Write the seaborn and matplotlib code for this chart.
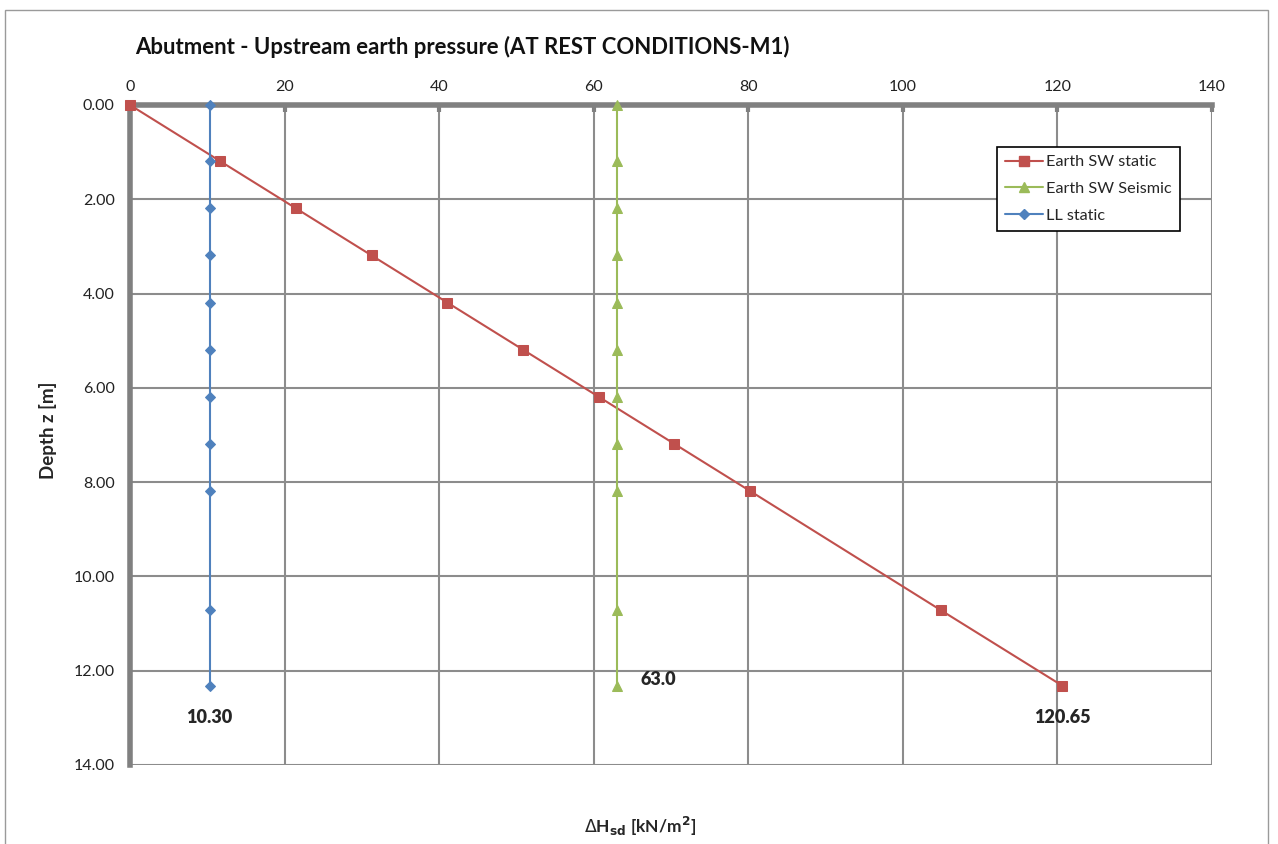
import matplotlib
matplotlib.use("Agg")
import matplotlib.pyplot as plt
import matplotlib.patches as mpatches
from matplotlib.lines import Line2D
from matplotlib.ticker import FormatStrFormatter, MultipleLocator
import seaborn as sns
import pandas as pd

# ---- data ----
depth = [0.00, 1.19, 2.19, 3.19, 4.19, 5.19, 6.19, 7.19, 8.19, 10.72, 12.32]
earth_sw_static = [0.00, 11.65, 21.45, 31.25, 41.05, 50.85, 60.65, 70.45, 80.25, 104.95, 120.65]
earth_sw_seismic = [63.0] * 11
ll_static = [10.30] * 11
series_names = ["Earth SW static", "Earth SW Seismic", "LL static"]
end_labels = ["120.65", "63.0", "10.30"]

colors = {"Earth SW static": "#C0504D", "Earth SW Seismic": "#9BBB59", "LL static": "#4F81BD"}
markers = {"Earth SW static": "s", "Earth SW Seismic": "^", "LL static": "D"}
msizes = {"Earth SW static": 7.5, "Earth SW Seismic": 7, "LL static": 5.5}

df = pd.concat([
    pd.DataFrame({"depth": depth, "value": earth_sw_static, "series": series_names[0]}),
    pd.DataFrame({"depth": depth, "value": earth_sw_seismic, "series": series_names[1]}),
    pd.DataFrame({"depth": depth, "value": ll_static, "series": series_names[2]}),
], ignore_index=True)

sns.set_style("white")
plt.rcParams["font.family"] = ["Lato", "DejaVu Sans"]

fig = plt.figure(figsize=(12.78, 8.44), dpi=100)
ax = fig.add_axes([130 / 1278, 1 - 765 / 844, (1212 - 130) / 1278, (765 - 105) / 844])

# outer chart border
fig.patches.append(mpatches.Rectangle((5 / 1278, -0.05), 1263 / 1278, 1 - 10 / 844 + 0.05,
                                      transform=fig.transFigure, fill=False,
                                      edgecolor="#9a9a9a", linewidth=1.0, zorder=0))

for name in series_names:
    sub = df[df["series"] == name]
    sns.lineplot(data=sub, x="value", y="depth", ax=ax, sort=False, estimator=None,
                 orient="y", color=colors[name], marker=markers[name],
                 markersize=msizes[name], markeredgecolor=colors[name],
                 linewidth=1.5, legend=False, zorder=5, clip_on=False)

ax.set_xlim(0, 140)
ax.set_ylim(14, 0)
ax.xaxis.set_major_locator(MultipleLocator(20))
ax.yaxis.set_major_locator(MultipleLocator(2))
ax.yaxis.set_major_formatter(FormatStrFormatter("%.2f"))
ax.xaxis.tick_top()
ax.xaxis.set_label_position("top")

ax.grid(True, color="#8c8c8c", linewidth=1.5, zorder=0)
ax.set_axisbelow(True)
for side in ["right", "bottom"]:
    ax.spines[side].set_visible(False)
for side in ["top", "left"]:
    ax.spines[side].set_color("#808080")
    ax.spines[side].set_linewidth(4)
    ax.spines[side].set_zorder(2.5)

ax.tick_params(axis="x", which="major", direction="in", length=5, width=3,
               color="#808080", labelsize=11.5, pad=8, labelcolor="#222222")
ax.tick_params(axis="y", which="major", direction="out", length=5, width=3,
               color="#808080", labelsize=11.5, pad=6, labelcolor="#222222")

ax.set_xlabel("")
ax.set_ylabel("")
fig.text(48 / 1278, 1 - 430 / 844, "Depth z [m]", fontsize=13.5, fontweight="bold",
         rotation=90, ha="center", va="center")

fig.text(135 / 1278, 1 - 47 / 844, "Abutment - Upstream earth pressure (AT REST CONDITIONS-M1)",
         fontsize=15.9, fontweight="bold", ha="left", va="center", color="#111111")
fig.text(640 / 1278, 1 - 826 / 844, r"$\Delta$H$_{\mathbf{sd}}$ [kN/m$^{\mathbf{2}}$]",
         fontsize=12.5, fontweight="bold", ha="center", va="center")

# end-value annotations
ax.text(earth_sw_static[-1], 13.0, end_labels[0], fontsize=13, fontweight="heavy",
        ha="center", va="center")
ax.text(earth_sw_seismic[-1] + 3.1, 12.18, end_labels[1], fontsize=13, fontweight="heavy",
        ha="left", va="center")
ax.text(ll_static[-1], 13.0, end_labels[2], fontsize=13, fontweight="heavy",
        ha="center", va="center")

handles = [Line2D([0], [0], color=colors[n], marker=markers[n], markersize=msizes[n],
                  markeredgecolor=colors[n], linewidth=1.5) for n in series_names]
leg = ax.legend(handles, series_names, loc="upper left",
                bbox_to_anchor=((997 - 130) / 1082, 1 - (147 - 105) / 660),
                frameon=True, fancybox=False, edgecolor="black", fontsize=11.7,
                handlelength=2.3, handletextpad=0.2, borderpad=0.5, labelspacing=0.75,
                borderaxespad=0, framealpha=1)
leg.get_frame().set_linewidth(1.2)

fig.savefig("out.png", dpi=100)
